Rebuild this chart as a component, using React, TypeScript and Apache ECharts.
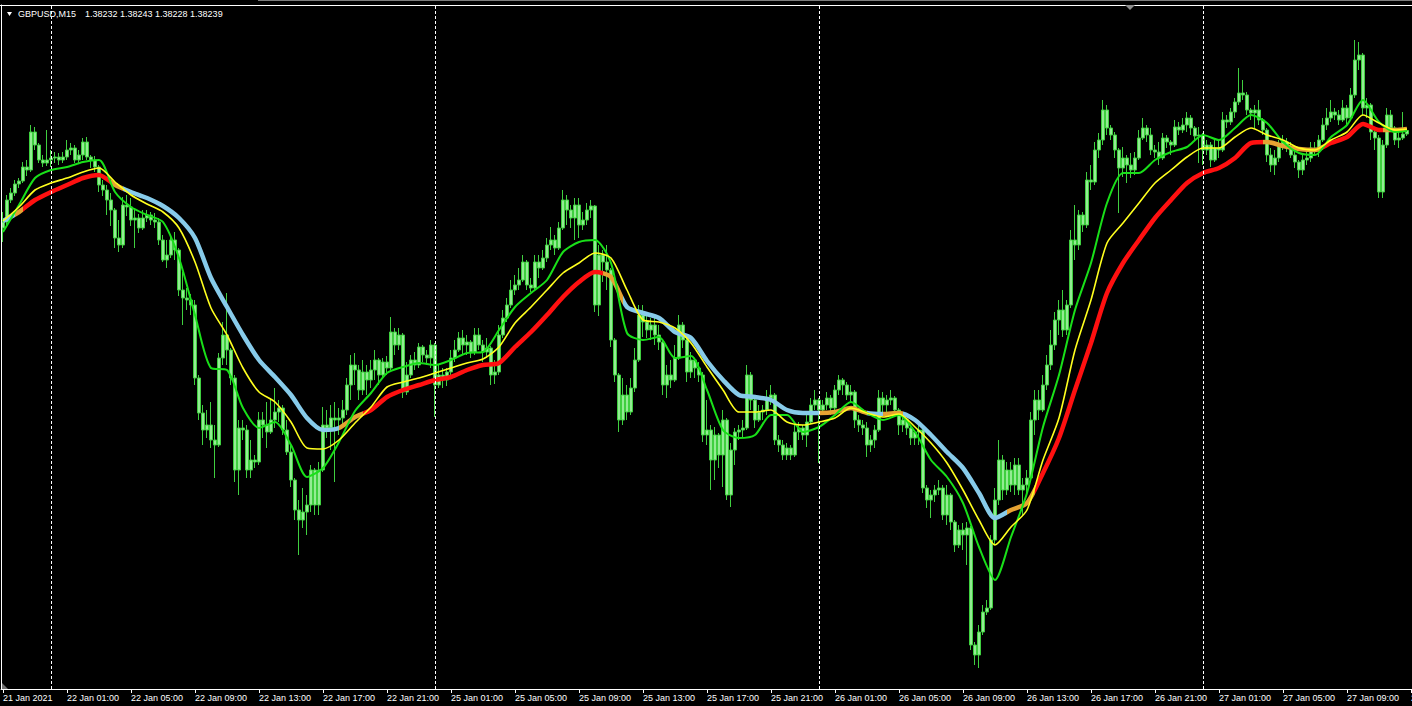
import React, { useEffect, useRef } from "react";
import * as echarts from "echarts";

const SYMBOL = "GBPUSD,M15";

const tickLabels = [
  "21 Jan 2021", "22 Jan 01:00", "22 Jan 05:00", "22 Jan 09:00", "22 Jan 13:00", "22 Jan 17:00",
  "22 Jan 21:00", "25 Jan 01:00", "25 Jan 05:00", "25 Jan 09:00", "25 Jan 13:00", "25 Jan 17:00",
  "25 Jan 21:00", "26 Jan 01:00", "26 Jan 05:00", "26 Jan 09:00", "26 Jan 13:00", "26 Jan 17:00",
  "26 Jan 21:00", "27 Jan 01:00", "27 Jan 05:00", "27 Jan 09:00", "27 Jan 13:00",
];

// trading sessions: [day, first 15-min slot of the day, number of bars]
const sessions: [string, number, number][] = [
  ["21 Jan", 84, 12],
  ["22 Jan", 0, 96],
  ["25 Jan", 0, 96],
  ["26 Jan", 0, 96],
  ["27 Jan", 0, 53],
];

const opens = [
  1.38044,1.38056,1.38100,1.38114,1.38132,1.38138,1.38166,1.38160,1.38236,1.38210,1.38180,1.38174,1.38180,1.38184,1.38186,1.38180,
  1.38186,1.38200,1.38204,1.38180,1.38190,1.38216,1.38186,1.38180,1.38166,1.38130,1.38120,1.38100,1.38080,1.38024,1.38010,1.38090,
  1.38086,1.38060,1.38064,1.38044,1.38064,1.38070,1.38060,1.38056,1.38020,1.37980,1.37990,1.38020,1.38000,1.37920,1.37904,1.37900,
  1.37890,1.37744,1.37674,1.37640,1.37650,1.37620,1.37610,1.37784,1.37830,1.37800,1.37744,1.37560,1.37644,1.37640,1.37560,1.37580,
  1.37576,1.37660,1.37650,1.37636,1.37660,1.37676,1.37684,1.37640,1.37596,1.37540,1.37480,1.37460,1.37476,1.37490,1.37560,1.37490,
  1.37560,1.37650,1.37644,1.37664,1.37660,1.37664,1.37680,1.37730,1.37770,1.37760,1.37720,1.37756,1.37740,1.37760,1.37780,1.37750,
  1.37776,1.37764,1.37836,1.37810,1.37830,1.37716,1.37750,1.37780,1.37770,1.37806,1.37790,1.37784,1.37810,1.37730,1.37750,1.37740,
  1.37756,1.37784,1.37800,1.37824,1.37810,1.37816,1.37796,1.37830,1.37810,1.37796,1.37804,1.37750,1.37756,1.37830,1.37864,1.37890,
  1.37920,1.37930,1.37940,1.37976,1.37930,1.37924,1.37976,1.37964,1.37984,1.38010,1.38020,1.38004,1.38044,1.38100,1.38080,1.38064,
  1.38090,1.38050,1.38060,1.38080,1.38088,1.37890,1.37990,1.37976,1.37960,1.37820,1.37750,1.37660,1.37710,1.37676,1.37724,1.37780,
  1.37870,1.37856,1.37840,1.37850,1.37830,1.37816,1.37730,1.37750,1.37740,1.37784,1.37850,1.37820,1.37756,1.37780,1.37764,1.37750,
  1.37630,1.37640,1.37580,1.37630,1.37590,1.37660,1.37510,1.37600,1.37636,1.37640,1.37644,1.37750,1.37700,1.37660,1.37676,1.37680,
  1.37704,1.37710,1.37620,1.37610,1.37590,1.37604,1.37590,1.37636,1.37644,1.37630,1.37656,1.37690,1.37700,1.37680,1.37690,1.37704,
  1.37684,1.37720,1.37740,1.37730,1.37710,1.37716,1.37660,1.37650,1.37644,1.37610,1.37620,1.37640,1.37704,1.37690,1.37700,1.37704,
  1.37680,1.37650,1.37660,1.37644,1.37624,1.37636,1.37640,1.37524,1.37500,1.37510,1.37520,1.37524,1.37470,1.37510,1.37456,1.37410,
  1.37440,1.37430,1.37444,1.37210,1.37190,1.37236,1.37276,1.37284,1.37420,1.37500,1.37580,1.37520,1.37560,1.37530,1.37570,1.37520,
  1.37530,1.37544,1.37660,1.37700,1.37680,1.37730,1.37770,1.37810,1.37860,1.37880,1.37840,1.37890,1.38020,1.38010,1.38070,1.38050,
  1.38140,1.38136,1.38200,1.38220,1.38280,1.38244,1.38230,1.38200,1.38164,1.38184,1.38170,1.38160,1.38184,1.38224,1.38244,1.38230,
  1.38200,1.38196,1.38184,1.38224,1.38216,1.38210,1.38246,1.38240,1.38250,1.38264,1.38244,1.38228,1.38230,1.38200,1.38210,1.38180,
  1.38204,1.38200,1.38260,1.38256,1.38276,1.38296,1.38314,1.38310,1.38280,1.38274,1.38280,1.38260,1.38240,1.38190,1.38170,1.38184,
  1.38210,1.38216,1.38204,1.38190,1.38176,1.38160,1.38180,1.38184,1.38204,1.38200,1.38220,1.38250,1.38264,1.38276,1.38270,1.38260,
  1.38284,1.38264,1.38310,1.38380,1.38390,1.38284,1.38290,1.38236,1.38224,1.38116,1.38210,1.38270,1.38244,1.38220,1.38224,1.38232,
];

const highs = [
  1.38076,1.38110,1.38124,1.38140,1.38144,1.38176,1.38180,1.38250,1.38246,1.38214,1.38190,1.38240,1.38200,1.38196,1.38194,1.38196,
  1.38220,1.38214,1.38210,1.38200,1.38224,1.38226,1.38190,1.38188,1.38170,1.38140,1.38130,1.38114,1.38084,1.38060,1.38106,1.38110,
  1.38104,1.38084,1.38072,1.38080,1.38080,1.38076,1.38074,1.38064,1.38030,1.38020,1.38028,1.38036,1.38004,1.37956,1.37924,1.37912,
  1.37900,1.37750,1.37690,1.37680,1.37696,1.37650,1.37794,1.37856,1.37914,1.37804,1.37750,1.37660,1.37660,1.37650,1.37620,1.37590,
  1.37676,1.37676,1.37696,1.37704,1.37724,1.37700,1.37690,1.37660,1.37610,1.37544,1.37500,1.37524,1.37510,1.37570,1.37564,1.37576,
  1.37686,1.37680,1.37690,1.37696,1.37684,1.37700,1.37744,1.37790,1.37794,1.37770,1.37780,1.37770,1.37780,1.37800,1.37784,1.37784,
  1.37788,1.37866,1.37844,1.37844,1.37834,1.37776,1.37790,1.37796,1.37814,1.37810,1.37800,1.37820,1.37814,1.37770,1.37764,1.37764,
  1.37800,1.37820,1.37836,1.37840,1.37830,1.37820,1.37844,1.37844,1.37820,1.37824,1.37808,1.37780,1.37850,1.37880,1.37904,1.37940,
  1.37950,1.37964,1.37990,1.37980,1.37944,1.37990,1.37990,1.38000,1.38024,1.38046,1.38030,1.38056,1.38120,1.38110,1.38090,1.38104,
  1.38104,1.38076,1.38094,1.38100,1.38090,1.38010,1.38000,1.38010,1.37964,1.37824,1.37754,1.37744,1.37730,1.37744,1.37804,1.37890,
  1.37890,1.37870,1.37864,1.37870,1.37850,1.37820,1.37770,1.37780,1.37810,1.37870,1.37856,1.37824,1.37796,1.37784,1.37776,1.37756,
  1.37700,1.37650,1.37646,1.37634,1.37680,1.37664,1.37614,1.37644,1.37650,1.37660,1.37770,1.37756,1.37704,1.37690,1.37690,1.37720,
  1.37730,1.37714,1.37630,1.37620,1.37614,1.37610,1.37650,1.37656,1.37650,1.37670,1.37704,1.37720,1.37704,1.37700,1.37716,1.37710,
  1.37730,1.37750,1.37744,1.37736,1.37730,1.37720,1.37670,1.37660,1.37656,1.37630,1.37650,1.37720,1.37716,1.37710,1.37720,1.37708,
  1.37684,1.37670,1.37664,1.37648,1.37640,1.37650,1.37644,1.37530,1.37520,1.37530,1.37540,1.37530,1.37530,1.37514,1.37460,1.37450,
  1.37454,1.37456,1.37448,1.37216,1.37250,1.37290,1.37300,1.37430,1.37524,1.37620,1.37590,1.37576,1.37576,1.37584,1.37584,1.37544,
  1.37560,1.37676,1.37720,1.37720,1.37750,1.37790,1.37840,1.37876,1.37900,1.37920,1.37900,1.38040,1.38090,1.38080,1.38076,1.38156,
  1.38170,1.38216,1.38234,1.38300,1.38290,1.38250,1.38236,1.38204,1.38206,1.38190,1.38194,1.38196,1.38240,1.38264,1.38250,1.38244,
  1.38210,1.38216,1.38234,1.38230,1.38220,1.38260,1.38256,1.38264,1.38276,1.38270,1.38248,1.38246,1.38234,1.38220,1.38216,1.38220,
  1.38220,1.38276,1.38270,1.38284,1.38304,1.38364,1.38340,1.38316,1.38284,1.38290,1.38300,1.38264,1.38244,1.38204,1.38200,1.38220,
  1.38230,1.38224,1.38216,1.38200,1.38180,1.38190,1.38200,1.38216,1.38216,1.38230,1.38264,1.38284,1.38300,1.38284,1.38280,1.38300,
  1.38290,1.38324,1.38420,1.38416,1.38394,1.38304,1.38294,1.38244,1.38230,1.38220,1.38284,1.38280,1.38248,1.38240,1.38276,1.38243,
];

const lows = [
  1.38016,1.38050,1.38094,1.38108,1.38124,1.38134,1.38148,1.38156,1.38200,1.38174,1.38166,1.38168,1.38166,1.38174,1.38170,1.38174,
  1.38180,1.38190,1.38174,1.38172,1.38180,1.38180,1.38164,1.38156,1.38116,1.38108,1.38070,1.38048,1.38004,1.37996,1.38004,1.38068,
  1.38048,1.38004,1.38034,1.38040,1.38056,1.38050,1.38044,1.38010,1.37976,1.37964,1.37984,1.37980,1.37908,1.37850,1.37880,1.37870,
  1.37730,1.37660,1.37610,1.37624,1.37604,1.37544,1.37606,1.37770,1.37770,1.37730,1.37536,1.37510,1.37620,1.37544,1.37544,1.37564,
  1.37570,1.37624,1.37604,1.37632,1.37644,1.37656,1.37630,1.37590,1.37526,1.37460,1.37390,1.37444,1.37430,1.37476,1.37470,1.37470,
  1.37556,1.37624,1.37600,1.37536,1.37630,1.37650,1.37670,1.37700,1.37730,1.37700,1.37710,1.37710,1.37724,1.37740,1.37730,1.37744,
  1.37750,1.37760,1.37790,1.37800,1.37704,1.37710,1.37744,1.37760,1.37764,1.37776,1.37770,1.37764,1.37666,1.37724,1.37724,1.37728,
  1.37750,1.37776,1.37796,1.37790,1.37790,1.37784,1.37790,1.37800,1.37776,1.37784,1.37730,1.37732,1.37750,1.37824,1.37856,1.37884,
  1.37910,1.37920,1.37936,1.37920,1.37916,1.37920,1.37944,1.37960,1.37976,1.38000,1.37990,1.38000,1.38040,1.38050,1.38044,1.38020,
  1.38024,1.38040,1.38050,1.38064,1.37876,1.37868,1.37936,1.37920,1.37806,1.37736,1.37636,1.37650,1.37660,1.37670,1.37716,1.37776,
  1.37826,1.37824,1.37820,1.37810,1.37800,1.37710,1.37704,1.37724,1.37736,1.37780,1.37804,1.37736,1.37744,1.37744,1.37736,1.37616,
  1.37610,1.37520,1.37540,1.37564,1.37526,1.37500,1.37486,1.37570,1.37620,1.37626,1.37640,1.37680,1.37644,1.37656,1.37660,1.37670,
  1.37690,1.37610,1.37596,1.37580,1.37580,1.37580,1.37586,1.37620,1.37620,1.37606,1.37652,1.37680,1.37574,1.37670,1.37680,1.37670,
  1.37680,1.37710,1.37710,1.37700,1.37696,1.37644,1.37636,1.37630,1.37586,1.37596,1.37604,1.37636,1.37676,1.37670,1.37690,1.37670,
  1.37630,1.37636,1.37630,1.37610,1.37610,1.37610,1.37514,1.37484,1.37464,1.37496,1.37510,1.37460,1.37450,1.37440,1.37396,1.37404,
  1.37400,1.37370,1.37200,1.37170,1.37164,1.37230,1.37270,1.37280,1.37410,1.37490,1.37500,1.37510,1.37516,1.37510,1.37510,1.37470,
  1.37510,1.37540,1.37630,1.37660,1.37676,1.37720,1.37760,1.37800,1.37830,1.37826,1.37830,1.37884,1.37980,1.38000,1.38036,1.38044,
  1.38120,1.38130,1.38184,1.38210,1.38230,1.38220,1.38184,1.38074,1.38146,1.38134,1.38144,1.38150,1.38180,1.38220,1.38216,1.38190,
  1.38184,1.38170,1.38180,1.38204,1.38190,1.38206,1.38230,1.38234,1.38236,1.38230,1.38220,1.38174,1.38170,1.38190,1.38166,1.38176,
  1.38184,1.38196,1.38244,1.38250,1.38264,1.38290,1.38300,1.38270,1.38260,1.38244,1.38250,1.38230,1.38176,1.38156,1.38150,1.38176,
  1.38200,1.38196,1.38184,1.38164,1.38144,1.38150,1.38170,1.38176,1.38190,1.38186,1.38216,1.38240,1.38256,1.38260,1.38250,1.38256,
  1.38250,1.38260,1.38304,1.38360,1.38270,1.38264,1.38220,1.38200,1.38104,1.38104,1.38204,1.38236,1.38210,1.38204,1.38220,1.38228,
];

const closes = [
  1.38056,1.38100,1.38114,1.38132,1.38138,1.38166,1.38160,1.38236,1.38210,1.38180,1.38174,1.38180,1.38184,1.38186,1.38180,1.38186,
  1.38200,1.38204,1.38180,1.38190,1.38216,1.38186,1.38180,1.38166,1.38130,1.38120,1.38100,1.38080,1.38024,1.38010,1.38090,1.38086,
  1.38060,1.38064,1.38044,1.38064,1.38070,1.38060,1.38056,1.38020,1.37980,1.37990,1.38020,1.38000,1.37920,1.37904,1.37900,1.37890,
  1.37744,1.37674,1.37640,1.37650,1.37620,1.37610,1.37784,1.37830,1.37800,1.37744,1.37560,1.37644,1.37640,1.37560,1.37580,1.37576,
  1.37660,1.37650,1.37636,1.37660,1.37676,1.37684,1.37640,1.37596,1.37540,1.37480,1.37460,1.37476,1.37490,1.37560,1.37490,1.37560,
  1.37650,1.37644,1.37664,1.37660,1.37664,1.37680,1.37730,1.37770,1.37760,1.37720,1.37756,1.37740,1.37760,1.37780,1.37750,1.37776,
  1.37764,1.37836,1.37810,1.37830,1.37716,1.37750,1.37780,1.37770,1.37806,1.37790,1.37784,1.37810,1.37730,1.37750,1.37740,1.37756,
  1.37784,1.37800,1.37824,1.37810,1.37816,1.37796,1.37830,1.37810,1.37796,1.37804,1.37750,1.37756,1.37830,1.37864,1.37890,1.37920,
  1.37930,1.37940,1.37976,1.37930,1.37924,1.37976,1.37964,1.37984,1.38010,1.38020,1.38004,1.38044,1.38100,1.38080,1.38064,1.38090,
  1.38050,1.38060,1.38080,1.38088,1.37890,1.37990,1.37976,1.37960,1.37820,1.37750,1.37660,1.37710,1.37676,1.37724,1.37780,1.37870,
  1.37856,1.37840,1.37850,1.37830,1.37816,1.37730,1.37750,1.37740,1.37784,1.37850,1.37820,1.37756,1.37780,1.37764,1.37750,1.37630,
  1.37640,1.37580,1.37630,1.37590,1.37660,1.37510,1.37600,1.37636,1.37640,1.37644,1.37750,1.37700,1.37660,1.37676,1.37680,1.37704,
  1.37710,1.37620,1.37610,1.37590,1.37604,1.37590,1.37636,1.37644,1.37630,1.37656,1.37690,1.37700,1.37680,1.37690,1.37704,1.37684,
  1.37720,1.37740,1.37730,1.37710,1.37716,1.37660,1.37650,1.37644,1.37610,1.37620,1.37640,1.37704,1.37690,1.37700,1.37704,1.37680,
  1.37650,1.37660,1.37644,1.37624,1.37636,1.37640,1.37524,1.37500,1.37510,1.37520,1.37524,1.37470,1.37510,1.37456,1.37410,1.37440,
  1.37430,1.37444,1.37210,1.37190,1.37236,1.37276,1.37284,1.37420,1.37500,1.37580,1.37520,1.37560,1.37530,1.37570,1.37520,1.37530,
  1.37544,1.37660,1.37700,1.37680,1.37730,1.37770,1.37810,1.37860,1.37880,1.37840,1.37890,1.38020,1.38010,1.38070,1.38050,1.38140,
  1.38136,1.38200,1.38220,1.38280,1.38244,1.38230,1.38200,1.38164,1.38184,1.38170,1.38160,1.38184,1.38224,1.38244,1.38230,1.38200,
  1.38196,1.38184,1.38224,1.38216,1.38210,1.38246,1.38240,1.38250,1.38264,1.38244,1.38228,1.38230,1.38200,1.38210,1.38180,1.38204,
  1.38200,1.38260,1.38256,1.38276,1.38296,1.38314,1.38310,1.38280,1.38274,1.38280,1.38260,1.38240,1.38190,1.38170,1.38184,1.38210,
  1.38216,1.38204,1.38190,1.38176,1.38160,1.38180,1.38184,1.38204,1.38200,1.38220,1.38250,1.38264,1.38276,1.38270,1.38260,1.38284,
  1.38264,1.38310,1.38380,1.38390,1.38284,1.38290,1.38236,1.38224,1.38116,1.38210,1.38270,1.38244,1.38220,1.38224,1.38232,1.38239,
];

// moving averages, read every 4th bar (bars 0,4,...,348 and the last bar 351)
const maFast = [
  1.38036,1.38090,1.38144,1.38160,1.38166,1.38176,1.38180,1.38116,1.38086,1.38070,1.38056,1.37984,1.37870,1.37764,1.37760,1.37684,
  1.37644,1.37656,1.37610,1.37546,1.37564,1.37616,1.37678,1.37714,1.37754,1.37766,1.37774,1.37770,1.37780,1.37794,1.37796,1.37840,
  1.37886,1.37914,1.37940,1.37996,1.38016,1.38020,1.37974,1.37834,1.37820,1.37826,1.37784,1.37788,1.37720,1.37640,1.37624,1.37630,
  1.37670,1.37670,1.37636,1.37646,1.37670,1.37696,1.37674,1.37660,1.37670,1.37636,1.37580,1.37546,1.37494,1.37406,1.37340,1.37426,
  1.37514,1.37646,1.37750,1.37880,1.37974,1.38094,1.38154,1.38154,1.38180,1.38196,1.38206,1.38230,1.38220,1.38244,1.38270,1.38254,
  1.38216,1.38194,1.38190,1.38226,1.38250,1.38300,1.38256,1.38236,1.38238,
];
const maMid = [
  1.38058,1.38086,1.38120,1.38134,1.38144,1.38156,1.38164,1.38136,1.38110,1.38092,1.38076,1.38044,1.37976,1.37884,1.37830,1.37764,
  1.37716,1.37696,1.37656,1.37604,1.37602,1.37620,1.37654,1.37686,1.37726,1.37736,1.37744,1.37754,1.37764,1.37774,1.37782,1.37806,
  1.37854,1.37886,1.37920,1.37954,1.37974,1.37994,1.37984,1.37920,1.37860,1.37856,1.37844,1.37814,1.37766,1.37720,1.37676,1.37676,
  1.37680,1.37656,1.37650,1.37656,1.37664,1.37684,1.37674,1.37666,1.37672,1.37646,1.37614,1.37574,1.37520,1.37460,1.37410,1.37446,
  1.37480,1.37580,1.37664,1.37800,1.37900,1.38014,1.38054,1.38094,1.38134,1.38160,1.38186,1.38204,1.38204,1.38226,1.38244,1.38230,
  1.38220,1.38204,1.38200,1.38220,1.38236,1.38270,1.38254,1.38240,1.38242,
];
const maSlow = [
  1.38058,1.38076,1.38100,1.38116,1.38130,1.38144,1.38150,1.38130,1.38116,1.38104,1.38088,1.38064,1.38024,1.37944,1.37886,1.37830,
  1.37780,1.37746,1.37710,1.37664,1.37640,1.37644,1.37666,1.37680,1.37706,1.37720,1.37730,1.37740,1.37746,1.37760,1.37770,1.37774,
  1.37806,1.37836,1.37870,1.37906,1.37936,1.37956,1.37946,1.37886,1.37874,1.37864,1.37836,1.37824,1.37778,1.37740,1.37710,1.37706,
  1.37700,1.37680,1.37674,1.37674,1.37676,1.37684,1.37674,1.37672,1.37674,1.37660,1.37630,1.37596,1.37564,1.37514,1.37464,1.37480,
  1.37494,1.37554,1.37624,1.37720,1.37814,1.37914,1.37974,1.38020,1.38064,1.38100,1.38134,1.38154,1.38164,1.38184,1.38214,1.38216,
  1.38208,1.38202,1.38200,1.38214,1.38226,1.38252,1.38240,1.38240,1.38242,
];

// slope state of the slow average: [first bar, end bar (exclusive), state]
const slowTrend: [number, number, "up" | "down" | "flat"][] = [
  [0, 3, "down"], [3, 5, "flat"], [5, 27, "up"], [27, 30, "flat"], [30, 84, "down"], [84, 90, "flat"],
  [90, 150, "up"], [150, 155, "flat"], [155, 204, "down"], [204, 216, "flat"], [216, 220, "down"],
  [220, 225, "flat"], [225, 251, "down"], [251, 258, "flat"], [258, 315, "up"], [315, 330, "flat"],
  [330, 345, "up"], [345, 353, "flat"],
];

const trendColors = { up: "#ff1010", down: "#87cbea", flat: "#e6a232" };

export default function App() {
  const ref = useRef<HTMLDivElement>(null);

  useEffect(() => {
    if (!ref.current) return;
    const chart = echarts.init(ref.current, null, { renderer: "svg" });

    const categories: string[] = [];
    for (const [day, startSlot, n] of sessions) {
      for (let k = 0; k < n; k++) {
        const s = startSlot + k;
        const hh = String(Math.floor(s / 4)).padStart(2, "0");
        const mm = String((s % 4) * 15).padStart(2, "0");
        categories.push(`${day} ${hh}:${mm}`);
      }
    }
    const daySeparators = categories
      .map((c, i) => (c.endsWith(" 00:00") ? i : -1))
      .filter((i) => i >= 0);

    const candles = closes.map((c, i) => [opens[i], c, lows[i], highs[i]]);
    const maBars = maFast.map((_, k) => (k < maFast.length - 1 ? k * 4 : closes.length - 1));
    const pairs = (arr: number[]) => arr.map((v, k) => [maBars[k], v]);

    const last = closes.length - 1;
    const ohlcText = [opens[last], highs[last], lows[last], closes[last]]
      .map((v) => v.toFixed(5))
      .join(" ");

    const labelFont = "Liberation Sans";

    chart.setOption({
      animation: false,
      backgroundColor: "#000000",
      grid: {
        left: 1,
        top: 5,
        width: 1412,
        height: 684,
        containLabel: false,
        outerBoundsMode: "none",
      },
      xAxis: {
        type: "category",
        data: categories,
        boundaryGap: true,
        axisLine: { show: true, lineStyle: { color: "#ffffff", width: 1 } },
        axisTick: {
          show: true,
          interval: 15,
          alignWithLabel: true,
          length: 4,
          lineStyle: { color: "#ffffff" },
        },
        axisLabel: {
          show: true,
          interval: 15,
          color: "#ffffff",
          fontSize: 9,
          fontFamily: labelFont,
          align: "left",
          margin: 4,
          hideOverlap: false,
          formatter: (_v: string, idx: number) => tickLabels[Math.round(idx / 16)] ?? "",
        },
        splitLine: { show: false },
      },
      yAxis: {
        type: "value",
        min: 1.37122,
        max: 1.3849,
        position: "left",
        axisLine: { show: true, lineStyle: { color: "#ffffff", width: 1 } },
        axisTick: { show: false },
        axisLabel: { show: false },
        splitLine: { show: false },
      },
      visualMap: {
        show: false,
        type: "piecewise",
        seriesIndex: 1,
        dimension: 0,
        pieces: slowTrend.map(([a, b, t]) => ({ gte: a, lt: b, color: trendColors[t] })),
      },
      series: [
        {
          type: "candlestick",
          data: candles,
          barWidth: 3,
          z: 2,
          itemStyle: {
            color: "#93ec93",
            color0: "#93ec93",
            borderColor: "#3fcf3f",
            borderColor0: "#3fcf3f",
            borderWidth: 1,
          },
          markLine: {
            silent: true,
            symbol: ["none", "none"],
            label: { show: false },
            lineStyle: { color: "#ffffff", width: 1, type: [3, 2] },
            data: daySeparators.map((i) => ({ xAxis: i })),
          },
        },
        {
          name: "slow",
          type: "line",
          data: pairs(maSlow),
          showSymbol: false,
          symbol: "none",
          smooth: 0.25,
          z: 3,
          lineStyle: { width: 4.5 },
        },
        {
          name: "fast",
          type: "line",
          data: pairs(maFast),
          showSymbol: false,
          symbol: "none",
          smooth: 0.25,
          z: 4,
          lineStyle: { width: 2, color: "#19e019" },
          itemStyle: { color: "#19e019" },
        },
        {
          name: "mid",
          type: "line",
          data: pairs(maMid),
          showSymbol: false,
          symbol: "none",
          smooth: 0.25,
          z: 5,
          lineStyle: { width: 1.6, color: "#ffff1e" },
          itemStyle: { color: "#ffff1e" },
        },
      ],
      graphic: [
        { type: "line", shape: { x1: 258, y1: 0.5, x2: 1412, y2: 0.5 }, style: { stroke: "#7c7c7c", lineWidth: 1 }, z: 10 },
        { type: "line", shape: { x1: 0, y1: 5.5, x2: 1412, y2: 5.5 }, style: { stroke: "#ffffff", lineWidth: 1 }, z: 10 },
        { type: "line", shape: { x1: 1.5, y1: 5, x2: 1.5, y2: 689 }, style: { stroke: "#ffffff", lineWidth: 1 }, z: 10 },
        { type: "polygon", shape: { points: [[1125, 5], [1135, 5], [1130, 10]] }, style: { fill: "#8c8c8c" }, z: 10 },
        { type: "polygon", shape: { points: [[2, 683], [2, 689], [8, 689]] }, style: { fill: "#707070" }, z: 10 },
        { type: "polygon", shape: { points: [[7, 12], [12, 12], [9.5, 16]] }, style: { fill: "#ffffff" }, z: 10 },
        {
          type: "text",
          x: 18,
          y: 14,
          z: 10,
          style: { text: SYMBOL, fill: "#ffffff", font: `9px "${labelFont}"`, verticalAlign: "middle", align: "left" },
        },
        {
          type: "text",
          x: 85,
          y: 14,
          z: 10,
          style: { text: ohlcText, fill: "#ffffff", font: `9px "${labelFont}"`, verticalAlign: "middle", align: "left" },
        },
      ],
    });

    return () => chart.dispose();
  }, []);

  return (
    <div
      ref={ref}
      style={{ position: "fixed", left: 0, top: 0, width: 1412, height: 706, background: "#000" }}
    />
  );
}
